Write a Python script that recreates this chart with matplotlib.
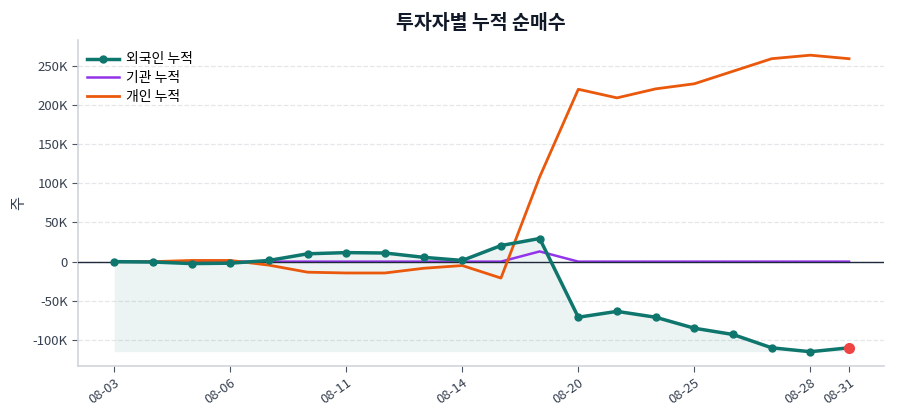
import matplotlib
matplotlib.use("Agg")
import matplotlib.pyplot as plt
import numpy as np

plt.rcParams['font.family'] = ['Noto Sans CJK KR', 'DejaVu Sans']
plt.rcParams['axes.unicode_minus'] = False

dates = ["08-03", "08-04", "08-05", "08-06", "08-07", "08-10", "08-11", "08-12", "08-13", "08-14",
         "08-18", "08-19", "08-20", "08-21", "08-24", "08-25", "08-26", "08-27", "08-28", "08-31"]
foreign = [0, -0.5, -2.5, -2, 1.5, 10, 11.5, 11, 5.5, 1.5,
           20.5, 29.5, -71, -63.5, -71, -85, -93, -110, -115, -110]
institution = [0, 0, 0, 0, 0, 0, 0, 0, 0, 0,
               0, 13, 0, 0, 0, 0, 0, 0, 0, 0]
individual = [0, 0, 1.5, 1.5, -4.5, -13.5, -14.5, -14.5, -8.5, -5,
              -21, 108, 220, 209, 220.5, 227, 243, 259, 263.5, 259]
tick_idx = [0, 3, 6, 9, 12, 15, 18, 19]

foreign = np.array(foreign) * 1000
institution = np.array(institution) * 1000
individual = np.array(individual) * 1000
x = np.arange(len(dates))

fig = plt.figure(figsize=(9, 4.2), dpi=100)
ax = fig.add_axes([0.087, 0.129, 0.895, 0.776])

teal = '#0f766e'
ax.fill_between(x, foreign, foreign.min(), color=teal, alpha=0.08, linewidth=0, zorder=1)
ax.plot(x, foreign, color=teal, linewidth=2.5, marker='o', markersize=5, label='외국인 누적', zorder=5)
ax.plot(x, institution, color='#9333ea', linewidth=1.8, label='기관 누적', zorder=3)
ax.plot(x, individual, color='#ea580c', linewidth=2.0, label='개인 누적', zorder=4)
ax.axhline(0, color='#1e293b', linewidth=1.0, zorder=3.5)
ax.plot(x[-1], foreign[-1], 'o', color='#ef4444', markersize=7, zorder=6)

ax.set_xlim(-0.93, 19.9)
ax.set_ylim(-133000, 283000)
ax.set_yticks(np.arange(-100000, 250001, 50000))
ax.set_yticklabels(['-100K', '-50K', '0', '50K', '100K', '150K', '200K', '250K'])
ax.set_xticks(tick_idx)
ax.set_xticklabels([dates[i] for i in tick_idx], rotation=35, ha='right', rotation_mode='anchor')

ax.grid(axis='y', linestyle='--', color='#e5e7eb', linewidth=0.9)
ax.set_axisbelow(True)
for s in ['top', 'right']:
    ax.spines[s].set_visible(False)
for s in ['left', 'bottom']:
    ax.spines[s].set_color('#d1d5db')
    ax.spines[s].set_linewidth(1.2)
ax.tick_params(colors='#374151', labelsize=9.5, length=4)
ax.tick_params(axis='both', color='#4b5563')

ax.set_ylabel('주', fontsize=11, color='#374151')
ax.set_title('투자자별 누적 순매수', fontsize=14, fontweight='bold', color='#111827', pad=8)

leg = ax.legend(loc='upper left', bbox_to_anchor=(-0.005, 1.0), frameon=False, fontsize=10,
                handlelength=2.3, handletextpad=0.5, borderaxespad=0.5, labelspacing=0.35)

fig.savefig('out.png', dpi=100)
